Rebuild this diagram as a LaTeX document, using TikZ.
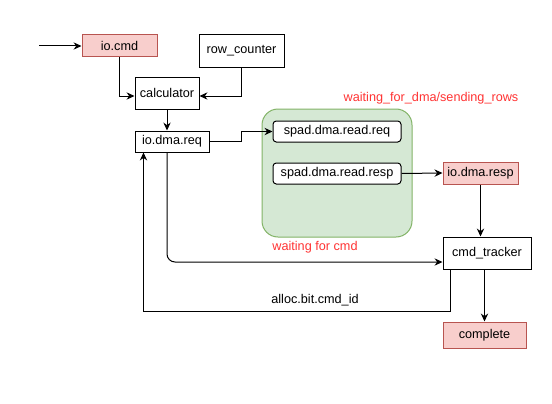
\documentclass[tikz,border=0pt]{standalone}
\usepackage{fontspec}
\setmainfont{Liberation Sans}
\usetikzlibrary{arrows.meta,calc}
\definecolor{redfill}{HTML}{F8CECC}
\definecolor{redline}{HTML}{B85450}
\definecolor{greenfill}{HTML}{D5E8D4}
\definecolor{greenline}{HTML}{82B366}
\definecolor{labelred}{HTML}{FF3333}
\begin{document}
\begin{tikzpicture}[x=0.75pt,y=-0.75pt,
  font=\fontsize{9.5}{11}\selectfont,
  wh/.style 2 args={minimum width={#1*0.75pt},minimum height={#2*0.75pt}},
  box/.style={draw=black, line width=0.75pt, inner sep=0pt, fill=white},
  redbox/.style={box, fill=redfill, draw=redline},
  conn/.style={draw=black, line width=0.75pt, -{Stealth[length=6pt,width=5.5pt,inset=2pt]}},
  lbl/.style={text=labelred, inner sep=0pt}]
\useasboundingbox (0,0) rectangle (552,403);

% green state region
\node[box, fill=greenfill, draw=greenline, rounded corners=12pt, wh={150}{128}] (grp) at (337,173) {};

\node[redbox, wh={75}{22}] (cmd) at (119.5,46) {io.cmd};
\node[box, wh={85}{32}] (rc) at (241.5,51) {row\_counter};
\node[box, wh={64}{32}] (calc) at (167,93) {calculator};
\node[box, wh={74}{21}] (req) at (172,141.5) {io.dma.req};
\node[box, rounded corners=2.5pt, wh={128}{21}] (sreq) at (337,131.5) {spad.dma.read.req};
\node[box, rounded corners=2.5pt, wh={128}{21}] (sresp) at (337,173.5) {spad.dma.read.resp};
\node[redbox, wh={75}{22}] (dresp) at (480.5,173) {io.dma.resp};
\node[box, wh={88}{32}] (trk) at (487,253) {cmd\_tracker};
\node[redbox, wh={83}{26}] (comp) at (484.5,335) {complete};

\node[lbl] (l1) at (431,98) {waiting\_for\_dma/sending\_rows};
\node[lbl] (l2) at (315,247) {waiting for cmd};
\node[inner sep=0pt] (l3) at (315,300) {alloc.bit.cmd\_id};

\coordinate (in) at (39,46);
\draw[conn] (in) -- (cmd.west);
\draw[conn] (cmd.south) |- ($(calc.west)+(0,3)$);
\draw[conn] (rc.south) |- ($(calc.east)+(0,3)$);
\draw[conn] (calc.south) -- (calc.south |- req.north);
\draw[conn] (req.east) -- ++(32,0) |- (sreq.west);
\draw[conn] (sresp.east) -- (dresp.west);
\draw[conn] (dresp.south) -- (dresp.south |- trk.north);
\draw[conn] (comp.north |- trk.south) -- (comp.north);
\coordinate (tin) at ($(trk.west)+(0,9)$);
\draw[conn, rounded corners=6pt] (calc.south |- req.south) -- (calc.south |- tin) -- (tin);
\draw[conn] ($(trk.south west)+(8,0)$) -- ++(0,42) -| ($(req.south west)+(9,0)$);
\end{tikzpicture}
\end{document}
